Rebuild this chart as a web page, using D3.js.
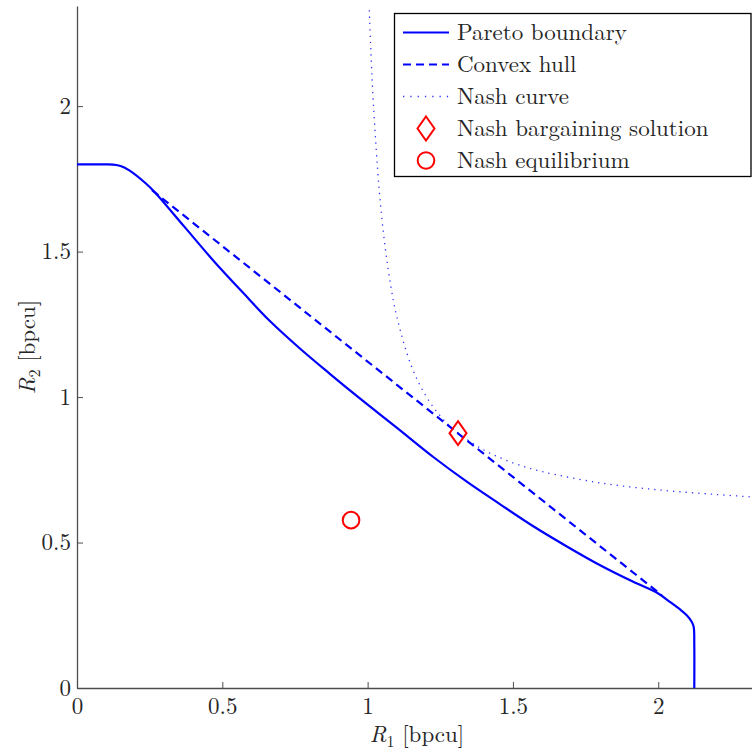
<!DOCTYPE html>
<html lang="en">
<head>
<meta charset="UTF-8" />
<title>Pareto boundary</title>
<script src="https://d3js.org/d3.v7.min.js"></script>
<style>
  body { margin: 0; background: #fff; }
  svg text { font-family: "Latin Modern Roman", "CMU Serif", "Liberation Serif", serif; fill: #262626; }
  .axis path, .axis line { stroke: #4d4d4d; }
</style>
</head>
<body>
<svg id="chart" width="752" height="753"></svg>
<script>
// Pareto boundary (R1, R2)
const paretoR1 = [0, 0.06, 0.1, 0.125, 0.15, 0.18, 0.237, 0.266, 0.37, 0.478, 0.57, 0.661, 0.767, 0.87, 0.97, 1.1, 1.226, 1.34, 1.455, 1.57, 1.69, 1.8, 1.914, 2.0, 2.04, 2.075, 2.098, 2.115, 2.122, 2.124, 2.124];
const paretoR2 = [1.8, 1.8, 1.8, 1.799, 1.794, 1.779, 1.734, 1.706, 1.585, 1.459, 1.36, 1.264, 1.167, 1.08, 0.998, 0.895, 0.794, 0.71, 0.632, 0.556, 0.484, 0.422, 0.365, 0.325, 0.296, 0.27, 0.25, 0.228, 0.21, 0.15, 0];

// convex hull segment
const hullR1 = [0.258, 2.012];
const hullR2 = [1.711, 0.319];

// Nash curve
const nashR1 = [1.005, 1.01, 1.02, 1.04, 1.06, 1.08, 1.1, 1.15, 1.2, 1.25, 1.3, 1.4, 1.5, 1.6, 1.8, 2.0, 2.2, 2.35];
const nashR2 = [2.351, 2.219, 2.006, 1.711, 1.517, 1.38, 1.278, 1.108, 1.005, 0.935, 0.885, 0.818, 0.774, 0.744, 0.705, 0.681, 0.665, 0.655];

const nbs = [1.311, 0.876];        // Nash bargaining solution
const equilibrium = [0.943, 0.577]; // Nash equilibrium

const xTicks = [0, 0.5, 1, 1.5, 2];
const yTicks = [0, 0.5, 1, 1.5, 2];
const legendLabels = ["Pareto boundary", "Convex hull", "Nash curve", "Nash bargaining solution", "Nash equilibrium"];

const svg = d3.select("#chart");
const plotL = 77, plotR = 752, plotT = 6, plotB = 688;
const fontSize = "23px";

const x = d3.scaleLinear().domain([0, 2.3226]).range([plotL, plotR]);
const y = d3.scaleLinear().domain([0, 2.3442]).range([plotB, plotT]);

svg.append("defs").append("clipPath").attr("id", "plotclip")
  .append("rect").attr("x", plotL).attr("y", plotT).attr("width", plotR - plotL).attr("height", plotB - plotT);

const fmt = d => String(d);

svg.append("g").attr("class", "axis")
  .attr("transform", `translate(0,${plotB})`)
  .call(d3.axisBottom(x).tickValues(xTicks).tickFormat(fmt).tickSize(-6).tickSizeOuter(0).tickPadding(10))
  .call(g => g.selectAll("text").style("font-size", fontSize).attr("fill", "#262626"));

svg.append("g").attr("class", "axis")
  .attr("transform", `translate(${plotL},0)`)
  .call(d3.axisLeft(y).tickValues(yTicks).tickFormat(fmt).tickSize(-6).tickSizeOuter(0).tickPadding(6))
  .call(g => g.selectAll("text").style("font-size", fontSize).attr("fill", "#262626"));

svg.selectAll(".axis .domain").attr("stroke-width", 1.3);

// axis titles
const xt = svg.append("text").attr("x", 417).attr("y", 742).attr("text-anchor", "middle").style("font-size", fontSize);
xt.append("tspan").style("font-style", "italic").text("R");
xt.append("tspan").attr("dy", 5).style("font-size", "16px").text("1");
xt.append("tspan").attr("dy", -5).text(" [bpcu]");

const yt = svg.append("text").attr("transform", `translate(35,${y(1.172)}) rotate(-90)`).attr("text-anchor", "middle").style("font-size", fontSize);
yt.append("tspan").style("font-style", "italic").text("R");
yt.append("tspan").attr("dy", 5).style("font-size", "16px").text("2");
yt.append("tspan").attr("dy", -5).text(" [bpcu]");

const plot = svg.append("g").attr("clip-path", "url(#plotclip)");

const pareto = paretoR1.map((d, i) => [d, paretoR2[i]]);
const hull = hullR1.map((d, i) => [d, hullR2[i]]);
const nash = nashR1.map((d, i) => [d, nashR2[i]]);

const line = d3.line().x(d => x(d[0])).y(d => y(d[1])).curve(d3.curveCatmullRom.alpha(0.5));

plot.append("path").datum(nash).attr("d", line)
  .attr("fill", "none").attr("stroke", "#3333ff").attr("stroke-width", 1.3).attr("stroke-dasharray", "1.3,5");

plot.append("path").datum(hull).attr("d", line)
  .attr("fill", "none").attr("stroke", "#0000ff").attr("stroke-width", 2.2).attr("stroke-dasharray", "8,5");

plot.append("path").datum(pareto).attr("d", line)
  .attr("fill", "none").attr("stroke", "#0000ff").attr("stroke-width", 2.2);

function diamond(g, cx, cy) {
  g.append("path")
    .attr("d", `M${cx},${cy - 12}L${cx + 8.5},${cy}L${cx},${cy + 12}L${cx - 8.5},${cy}Z`)
    .attr("fill", "none").attr("stroke", "#ff0000").attr("stroke-width", 2);
}
function ring(g, cx, cy) {
  g.append("circle").attr("cx", cx).attr("cy", cy).attr("r", 8.3)
    .attr("fill", "none").attr("stroke", "#ff0000").attr("stroke-width", 2);
}

diamond(plot, x(nbs[0]), y(nbs[1]));
ring(plot, x(equilibrium[0]), y(equilibrium[1]));

// legend
const legend = svg.append("g");
legend.append("rect").attr("x", 394.5).attr("y", 13.5).attr("width", 356.5).attr("height", 163)
  .attr("fill", "#fff").attr("stroke", "#000").attr("stroke-width", 1.3);

legendLabels.forEach((label, i) => {
  const cy = 32.5 + i * 32;
  if (i < 3) {
    legend.append("line").attr("x1", 403).attr("x2", 449).attr("y1", cy).attr("y2", cy)
      .attr("stroke", i === 2 ? "#3333ff" : "#0000ff")
      .attr("stroke-width", i === 2 ? 1.3 : 2.2)
      .attr("stroke-dasharray", i === 1 ? "8,5" : i === 2 ? "1.3,6" : null);
  } else if (i === 3) {
    diamond(legend, 426, cy);
  } else {
    ring(legend, 426, cy);
  }
  legend.append("text").attr("x", 457).attr("y", cy).attr("dy", "0.33em")
    .style("font-size", fontSize).text(label);
});
</script>
</body>
</html>
